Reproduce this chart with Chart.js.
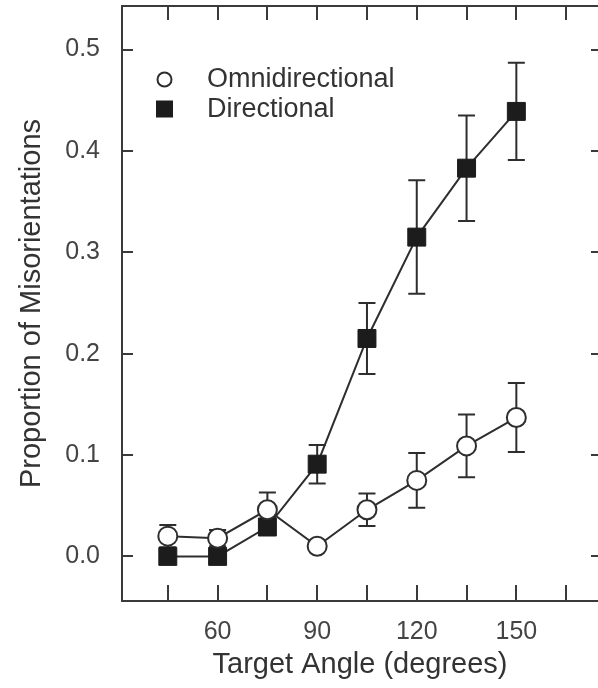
<!DOCTYPE html>
<html><head><meta charset="utf-8">
<script src="https://cdn.jsdelivr.net/npm/chart.js@4.4.1/dist/chart.umd.min.js"></script>
<style>html,body{margin:0;padding:0;background:#fff;} #wrap{width:598px;height:688px;}</style>
</head><body><div id="wrap"><canvas id="c" width="598" height="688"></canvas></div>
<script>
const angles = [45, 60, 75, 90, 105, 120, 135, 150];
const omniValues = [0.020, 0.018, 0.046, 0.010, 0.046, 0.075, 0.109, 0.137];
const omniErrors = [0.011, 0.008, 0.017, 0.004, 0.016, 0.027, 0.031, 0.034];
const dirValues = [0.000, 0.000, 0.029, 0.091, 0.215, 0.315, 0.383, 0.439];
const dirErrors = [0.000, 0.000, 0.005, 0.019, 0.035, 0.056, 0.052, 0.048];
const seriesLabels = ['Omnidirectional', 'Directional'];
const xTickMarks = [45, 60, 75, 90, 105, 120, 135, 150, 165];
const xTickLabels = [60, 90, 120, 150];
const yTickValues = [0, 0.1, 0.2, 0.3, 0.4, 0.5];
const xTitle = 'Target Angle (degrees)';
const yTitle = 'Proportion of Misorientations';

const FONT = '"Liberation Sans", Arial, Helvetica, sans-serif';
const LINE = '#2e2e2e';

const zeroPad = s => { s.paddingTop = 0; s.paddingBottom = 0; s.paddingLeft = 0; s.paddingRight = 0; };

const decor = {
  id: 'decor',
  beforeDatasetsDraw(chart) {
    const {ctx, chartArea: a, scales: {x, y}} = chart;
    ctx.save();
    ctx.strokeStyle = '#3a3a3a';
    ctx.lineWidth = 2;
    ctx.beginPath();
    ctx.moveTo(a.right, a.top); ctx.lineTo(a.left, a.top);
    ctx.lineTo(a.left, a.bottom); ctx.lineTo(a.right, a.bottom);
    ctx.stroke();
    ctx.beginPath();
    xTickMarks.forEach(v => {
      const px = Math.round(x.getPixelForValue(v));
      ctx.moveTo(px, a.bottom); ctx.lineTo(px, a.bottom - 16);
      ctx.moveTo(px, a.top); ctx.lineTo(px, a.top + 14);
    });
    yTickValues.forEach(v => {
      const py = Math.round(y.getPixelForValue(v));
      ctx.moveTo(a.left, py); ctx.lineTo(a.left + 11, py);
      ctx.moveTo(a.right - 7, py); ctx.lineTo(a.right, py);
    });
    ctx.stroke();
    ctx.strokeStyle = LINE;
    [[omniValues, omniErrors], [dirValues, dirErrors]].forEach(([vals, errs]) => {
      angles.forEach((ang, i) => {
        if (!errs[i]) return;
        const px = x.getPixelForValue(ang);
        const t = y.getPixelForValue(vals[i] + errs[i]);
        const b = y.getPixelForValue(vals[i] - errs[i]);
        ctx.beginPath();
        ctx.moveTo(px, t); ctx.lineTo(px, b);
        ctx.moveTo(px - 8.5, t); ctx.lineTo(px + 8.5, t);
        ctx.moveTo(px - 8.5, b); ctx.lineTo(px + 8.5, b);
        ctx.stroke();
      });
    });
    ctx.restore();
  },
  afterDatasetsDraw(chart) {
    const {ctx, chartArea: a} = chart;
    ctx.save();
    const cx = a.left + 42.5;
    ctx.lineWidth = 2;
    ctx.strokeStyle = LINE;
    ctx.fillStyle = '#fff';
    ctx.beginPath();
    ctx.arc(cx, a.top + 73.5, 7, 0, Math.PI * 2);
    ctx.fill(); ctx.stroke();
    ctx.fillStyle = '#1c1c1c';
    ctx.fillRect(cx - 8.5, a.top + 94.5, 17, 17);
    ctx.fillStyle = '#333';
    ctx.font = '27px ' + FONT;
    ctx.textBaseline = 'alphabetic';
    ctx.fillText(seriesLabels[0], a.left + 85, a.top + 81);
    ctx.fillText(seriesLabels[1], a.left + 85, a.top + 111);
    ctx.restore();
  }
};

new Chart(document.getElementById('c'), {
  type: 'line',
  data: {
    datasets: [
      {
        label: seriesLabels[0],
        data: angles.map((a, i) => ({x: a, y: omniValues[i]})),
        borderColor: LINE, borderWidth: 2,
        pointStyle: 'circle', pointRadius: 9.5,
        pointBackgroundColor: '#fff', pointBorderColor: LINE, pointBorderWidth: 2,
        tension: 0, order: 1
      },
      {
        label: seriesLabels[1],
        data: angles.map((a, i) => ({x: a, y: dirValues[i]})),
        borderColor: LINE, borderWidth: 2,
        pointStyle: 'rect', pointRadius: 12.7,
        pointBackgroundColor: '#1c1c1c', pointBorderColor: '#1c1c1c', pointBorderWidth: 1,
        tension: 0, order: 2
      }
    ]
  },
  options: {
    responsive: false, animation: false, devicePixelRatio: 1,
    layout: {autoPadding: false, padding: {top: 6, right: 0, left: 0, bottom: 0}},
    plugins: {legend: {display: false}, tooltip: {enabled: false}},
    scales: {
      x: {
        type: 'linear', position: 'bottom', min: 31.2, max: 174.6,
        afterBuildTicks: s => { s.ticks = xTickLabels.map(v => ({value: v})); },
        afterFit: s => { s.height = 87; zeroPad(s); },
        grid: {display: false, drawTicks: false},
        border: {display: false},
        ticks: {padding: 16, color: '#444', autoSkip: false, maxRotation: 0,
                font: {family: FONT, size: 25}, callback: v => String(v)},
        title: {display: true, text: xTitle, color: '#333',
                font: {family: FONT, size: 29}, padding: {top: 0, bottom: 6}}
      },
      y: {
        type: 'linear', position: 'left', min: -0.044, max: 0.543,
        afterBuildTicks: s => { s.ticks = yTickValues.map(v => ({value: v})); },
        afterFit: s => { s.width = 122; zeroPad(s); },
        grid: {display: false, drawTicks: false},
        border: {display: false},
        ticks: {padding: 22, color: '#444', autoSkip: false,
                font: {family: FONT, size: 25}, callback: v => Number(v).toFixed(1)},
        title: {display: true, text: yTitle, color: '#333',
                font: {family: FONT, size: 29}, padding: {top: 15, bottom: 0}}
      }
    }
  },
  plugins: [decor]
});
</script>
</body></html>
